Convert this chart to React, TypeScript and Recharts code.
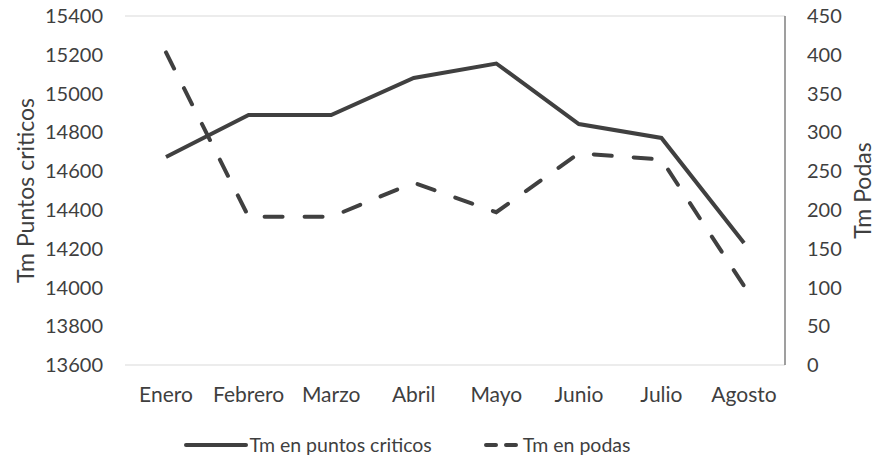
import React from "react";
import {
  CartesianGrid,
  Legend,
  Line,
  LineChart,
  XAxis,
  YAxis,
} from "recharts";

const months = ["Enero", "Febrero", "Marzo", "Abril", "Mayo", "Junio", "Julio", "Agosto"];
const puntosCriticos = [14673, 14889, 14889, 15080, 15155, 14843, 14771, 14229];
const podas = [403, 191, 191, 235, 197, 273, 265, 102];
const leftTicks = [13600, 13800, 14000, 14200, 14400, 14600, 14800, 15000, 15200, 15400];
const rightTicks = [0, 50, 100, 150, 200, 250, 300, 350, 400, 450];

const data = months.map((month, i) => ({
  month,
  criticos: puntosCriticos[i],
  podas: podas[i],
}));

const FONT = "Lato, 'Open Sans', sans-serif";
const TEXT = "#3f3f3f";
const LINE = "#404040";

if (typeof document !== "undefined") document.body.style.margin = "0";

function AxisTitle({ viewBox, value, posX }: any) {
  const cy = viewBox ? viewBox.y + viewBox.height / 2 : 190;
  return (
    <text
      x={posX}
      y={cy}
      transform={`rotate(-90, ${posX}, ${cy})`}
      textAnchor="middle"
      dominantBaseline="central"
      fill={TEXT}
      fontSize={23}
      fontFamily={FONT}
    >
      {value}
    </text>
  );
}

function LegendContent() {
  return (
    <div style={{ height: 35, paddingRight: 62, display: "flex", justifyContent: "center", alignItems: "center", fontFamily: FONT, fontSize: 19.5, color: TEXT }}>
      <svg width={64} height={10} style={{ marginRight: 2 }}>
        <line x1={2} y1={5} x2={62} y2={5} stroke={LINE} strokeWidth={4} strokeLinecap="round" />
      </svg>
      <span style={{ marginRight: 52 }}>Tm en puntos criticos</span>
      <svg width={36} height={10} style={{ marginRight: 3 }}>
        <line x1={2} y1={5} x2={34} y2={5} stroke={LINE} strokeWidth={4} strokeDasharray="10 10" strokeLinecap="round" />
      </svg>
      <span>Tm en podas</span>
    </div>
  );
}

export default function App() {
  return (
    <div style={{ width: 876, height: 462, background: "#fff" }}>
      <LineChart
        width={876}
        height={462}
        data={data}
        margin={{ top: 16, right: 0, bottom: 0, left: 0 }}
      >
        <CartesianGrid stroke="#d9d9d9" vertical={false} />
        <XAxis
          dataKey="month"
          axisLine={false}
          tickLine={false}
          tickSize={0}
          tickMargin={22}
          height={62}
          padding={{ left: 41, right: 41 }}
          tick={{ fill: TEXT, fontSize: 21, fontFamily: FONT }}
          interval={0}
        />
        <YAxis
          yAxisId="left"
          domain={[13600, 15400]}
          ticks={leftTicks}
          width={125}
          axisLine={false}
          tickLine={false}
          tickSize={0}
          tickMargin={22}
          tick={{ fill: TEXT, fontSize: 20, fontFamily: FONT }}
          label={<AxisTitle value="Tm Puntos criticos" posX={25} />}
        />
        <YAxis
          yAxisId="right"
          orientation="right"
          domain={[0, 450]}
          ticks={rightTicks}
          width={91}
          axisLine={{ stroke: "#7f7f7f", strokeWidth: 1.5 }}
          tickLine={false}
          tickSize={0}
          tickMargin={22}
          tick={{ fill: TEXT, fontSize: 20, fontFamily: FONT, textAnchor: "start" }}
          label={<AxisTitle value="Tm Podas" posX={862} />}
        />
        <Legend verticalAlign="bottom" height={35} content={<LegendContent />} />
        <Line
          yAxisId="left"
          dataKey="criticos"
          name="Tm en puntos criticos"
          type="linear"
          stroke={LINE}
          strokeWidth={4}
          dot={false}
          isAnimationActive={false}
        />
        <Line
          yAxisId="right"
          dataKey="podas"
          name="Tm en podas"
          type="linear"
          stroke={LINE}
          strokeWidth={4}
          strokeDasharray="18 22"
          strokeLinecap="round"
          dot={false}
          isAnimationActive={false}
        />
      </LineChart>
    </div>
  );
}
